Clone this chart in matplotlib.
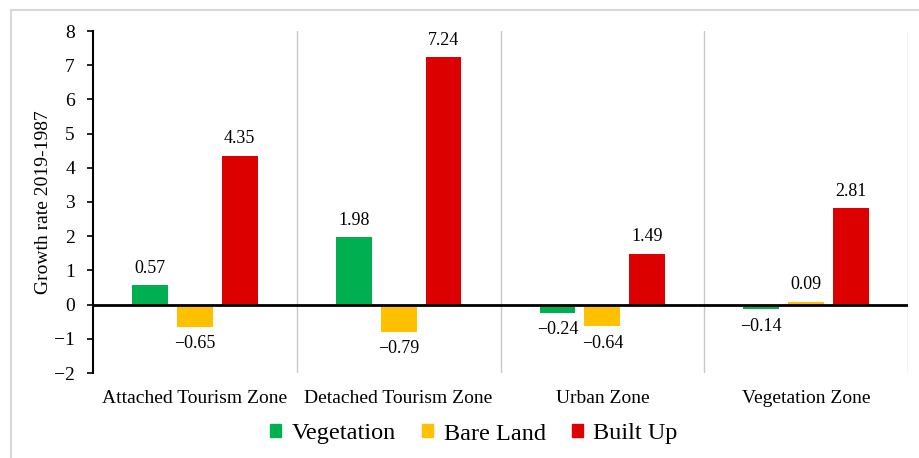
import matplotlib
matplotlib.use("Agg")
import matplotlib.pyplot as plt
import numpy as np
from matplotlib.lines import Line2D

zones = ["Attached Tourism Zone", "Detached Tourism Zone", "Urban Zone", "Vegetation Zone"]
vegetation = [0.57, 1.98, -0.24, -0.14]
bare_land = [-0.65, -0.79, -0.64, 0.09]
built_up = [4.35, 7.24, 1.49, 2.81]
series_names = ["Vegetation", "Bare Land", "Built Up"]
series_colors = ["#00B050", "#FFC000", "#DD0000"]
yticks = list(range(-2, 9))

plt.rcParams["font.family"] = ["Liberation Serif", "DejaVu Serif"]
plt.rcParams["axes.unicode_minus"] = True

W, H = 919, 458
fig = plt.figure(figsize=(W / 100, H / 100), dpi=100)
ax = fig.add_axes([93 / W, 85 / H, (908 - 93) / W, (373 - 31) / H])

x = np.arange(len(zones))
width = 0.176
step = 0.22
for i, (vals, name, col) in enumerate(zip([vegetation, bare_land, built_up], series_names, series_colors)):
    pos = x + (i - 1) * step
    ax.bar(pos, vals, width=width, color=col, label=name, zorder=2)
    for px, v in zip(pos, vals):
        if v >= 0:
            ax.annotate(f"{v:.2f}", (px, v), xytext=(0, 6), textcoords="offset points",
                        ha="center", va="bottom", fontsize=13)
        else:
            ax.annotate(f"\u2212{abs(v):.2f}", (px, v), xytext=(0, -6), textcoords="offset points",
                        ha="center", va="top", fontsize=13)

ax.set_xlim(-0.5, len(zones) - 0.5)
ax.set_ylim(-2, 8)
ax.set_yticks(yticks)
ax.tick_params(axis="y", labelsize=14, direction="out", length=4.5, width=1.2,
               colors="black", pad=8.5)
ax.set_xticks(x)
ax.set_xticklabels(zones, fontsize=14)
ax.tick_params(axis="x", length=0, pad=12)

for s in ["top", "right", "bottom"]:
    ax.spines[s].set_visible(False)
ax.spines["left"].set_linewidth(1.5)
ax.axhline(0, color="black", linewidth=2, zorder=3)
for b in np.arange(0.5, len(zones), 1.0):
    ax.axvline(b, color="#C8C8C8", linewidth=1, zorder=1)

ax.set_ylabel("Growth rate 2019-1987", fontsize=14)
ax.yaxis.set_label_coords((52 - 93) / (908 - 93), 0.5)

handles = [plt.Rectangle((0, 0), 1, 1, color=c) for c in series_colors]
fig.legend(handles, series_names, loc="center", bbox_to_anchor=(474 / W, 1 - 434 / H),
           ncol=3, frameon=False, fontsize=17.5, handlelength=0.45, handleheight=0.45,
           handletextpad=0.42, columnspacing=1.1)

# light frame around the figure
fig.add_artist(Line2D([11 / W, 1], [1 - 10 / H, 1 - 10 / H], transform=fig.transFigure,
                      color="#D8D8D8", linewidth=1.5))
fig.add_artist(Line2D([11 / W, 11 / W], [0, 1 - 10 / H], transform=fig.transFigure,
                      color="#D8D8D8", linewidth=1.5))

fig.savefig("out.png", dpi=100)
